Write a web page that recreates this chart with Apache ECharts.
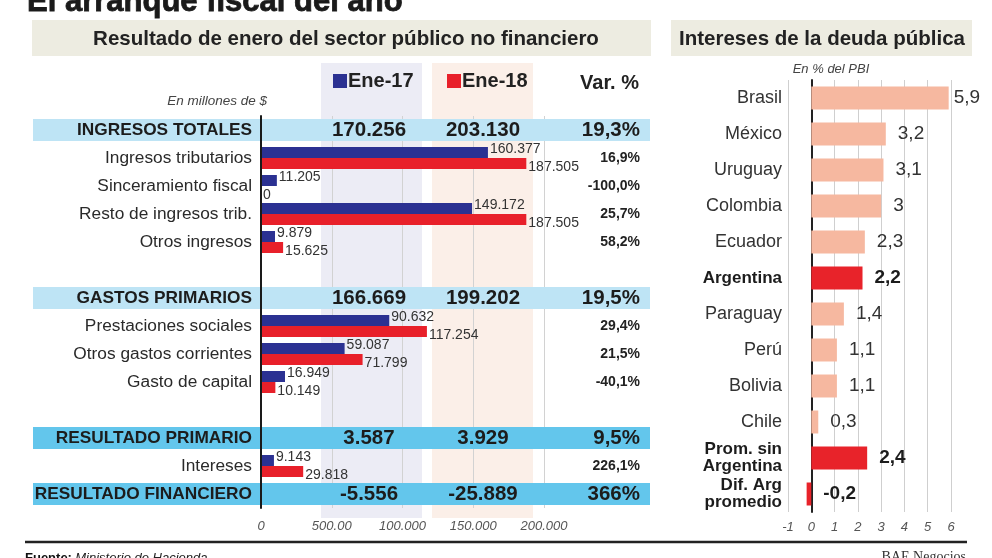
<!DOCTYPE html>
<html><head><meta charset="utf-8">
<script src="https://cdn.jsdelivr.net/npm/echarts@6/dist/echarts.min.js"></script>
<style>html,body{margin:0;padding:0;background:#fff}#c{width:992px;height:558px}</style>
</head><body><div id="c"></div>
<script>
// ---- Left table / bars ----
const categories = ['INGRESOS TOTALES','Ingresos tributarios','Sinceramiento fiscal','Resto de ingresos trib.','Otros ingresos','','GASTOS PRIMARIOS','Prestaciones sociales','Otros gastos corrientes','Gasto de capital',' ','RESULTADO PRIMARIO','Intereses','RESULTADO FINANCIERO'];
const ene17 = [null,160377,11205,149172,9879,null,null,90632,59087,16949,null,null,9143,null];
const ene18 = [null,187505,0,187505,15625,null,null,117254,71799,10149,null,null,29818,null];
const totals17 = ['170.256','','','','','','166.669','','','','','3.587','','-5.556'];
const totals18 = ['203.130','','','','','','199.202','','','','','3.929','','-25.889'];
const varPct = ['19,3%','16,9%','-100,0%','25,7%','58,2%','','19,5%','29,4%','21,5%','-40,1%','','9,5%','226,1%','366%'];
const headerRows = [0,6,11,13];
const strongRows = [11,13];
const xTickLabels = {0:'0',50000:'500.00',100000:'100.000',150000:'150.000',200000:'200.000'};

// ---- Right chart ----
const countries = ['Brasil','México','Uruguay','Colombia','Ecuador','Argentina','Paraguay','Perú','Bolivia','Chile','Prom. sin\nArgentina','Dif. Arg\npromedio'];
const interestPct = [5.9,3.2,3.1,3,2.3,2.2,1.4,1.1,1.1,0.3,2.4,-0.2];
const highlighted = ['Argentina','Prom. sin\nArgentina','Dif. Arg\npromedio'];

const FONT = 'Liberation Sans, Arial, Helvetica, sans-serif';
const fmt = v => String(v).replace(/\B(?=(\d{3})+(?!\d))/g, '.');
const pct = v => String(v).replace('.', ',');

const chart = echarts.init(document.getElementById('c'));

function colAxis(texts, offset, align) {
  return {
    type:'category', gridIndex:0, inverse:true, data:categories, position:'right', offset:offset, z:3,
    axisLine:{show:false}, axisTick:{show:false}, splitLine:{show:false},
    axisLabel:{interval:0, margin:0, align:align, fontFamily:FONT,
      formatter:(v,i)=> texts[i] ? (headerRows.includes(i) ? '{big|'+texts[i]+'}' : '{small|'+texts[i]+'}') : '',
      rich:{ big:{fontSize:20.5, fontWeight:'bold', color:'#1c1c1c', fontFamily:FONT},
             small:{fontSize:14, fontWeight:'bold', color:'#222', fontFamily:FONT} } }
  };
}

const option = {
  animation:false,
  textStyle:{fontFamily:FONT},
  legend:[
    {data:['Ene-17'], left:328, top:66, itemWidth:14, itemHeight:14, icon:'rect', selectedMode:false,
     textStyle:{fontSize:20, fontWeight:'bold', color:'#222', fontFamily:FONT, padding:[0,0,0,-4]}},
    {data:['Ene-18'], left:442, top:66, itemWidth:14, itemHeight:14, icon:'rect', selectedMode:false,
     textStyle:{fontSize:20, fontWeight:'bold', color:'#222', fontFamily:FONT, padding:[0,0,0,-4]}}
  ],
  grid:[
    {left:261, top:116, width:283, height:392},
    {left:788, top:80, width:163, height:432}
  ],
  xAxis:[
    {type:'value', gridIndex:0, min:0, max:200000, interval:50000, z:1,
     axisLine:{show:false}, axisTick:{show:false},
     splitLine:{show:true, lineStyle:{color:'#d2d2d2', width:1}},
     axisLabel:{margin:12, fontSize:13, fontStyle:'italic', color:'#555', fontFamily:FONT,
       formatter:v=> xTickLabels[v] !== undefined ? xTickLabels[v] : ''}},
    {type:'value', gridIndex:1, min:-1, max:6, interval:1,
     axisLine:{show:false}, axisTick:{show:false},
     splitLine:{show:true, lineStyle:{color:'#cfcfcf', width:1}},
     axisLabel:{margin:9, fontSize:13, fontStyle:'italic', color:'#555', fontFamily:FONT}}
  ],
  yAxis:[
    {type:'category', gridIndex:0, inverse:true, data:categories, z:3,
     axisLine:{show:true, lineStyle:{color:'#1a1a1a', width:2}}, axisTick:{show:false},
     axisLabel:{interval:0, margin:9, fontFamily:FONT,
       formatter:(v,i)=> v.trim()==='' ? '' : (headerRows.includes(i) ? '{h|'+v+'}' : '{n|'+v+'}'),
       rich:{h:{fontSize:17.3, fontWeight:'bold', color:'#1c1c1c', fontFamily:FONT},
             n:{fontSize:17.3, color:'#2a2a2a', fontFamily:FONT}}}},
    colAxis(totals17, -175, 'center'),
    colAxis(totals18, -61, 'center'),
    colAxis(varPct, 96, 'right'),
    {type:'category', gridIndex:1, inverse:true, data:countries,
     axisLine:{show:true, onZero:true, lineStyle:{color:'#222', width:2}}, axisTick:{show:false},
     axisLabel:{interval:0, margin:6, fontFamily:FONT,
       formatter:v=> highlighted.includes(v) ? '{b|'+v+'}' : '{n|'+v+'}',
       rich:{b:{fontSize:17, fontWeight:'bold', color:'#1c1c1c', lineHeight:17, fontFamily:FONT},
             n:{fontSize:18, color:'#333', fontFamily:FONT}}}}
  ],
  series:[
    {type:'bar', name:'Ene-17', xAxisIndex:0, yAxisIndex:0, data:ene17, barWidth:11, barGap:'0%',
     itemStyle:{color:'#2b3192'},
     label:{show:true, position:'right', distance:2, offset:[0,-3], fontSize:14, color:'#333', fontFamily:FONT,
       formatter:p=> p.value==null ? '' : fmt(p.value)}},
    {type:'bar', name:'Ene-18', xAxisIndex:0, yAxisIndex:0, data:ene18, barWidth:11, barGap:'0%',
     itemStyle:{color:'#e8202a'},
     label:{show:true, position:'right', distance:2, offset:[0,4], fontSize:14, color:'#333', fontFamily:FONT,
       formatter:p=> p.value==null ? '' : fmt(p.value)}},
    {type:'bar', name:'Intereses', xAxisIndex:1, yAxisIndex:4, barWidth:23,
     data: interestPct.map((v,i)=>{
       const hl = highlighted.includes(countries[i]);
       return {value:v, itemStyle:{color: hl ? '#e8232a' : '#f6b8a0'},
         label:{distance: i===0 ? 5 : 12, fontWeight: hl ? 'bold' : 'normal', color: hl ? '#1c1c1c' : '#333'}};
     }),
     label:{show:true, position:'right', fontSize:19, fontFamily:FONT, formatter:p=> pct(p.value)}}
  ]
};
chart.setOption(option);

// Decorative table elements, placed from the axis scales
const rowY = i => chart.convertToPixel({yAxisIndex:0}, i);
const graphics = [
  {type:'text', z:5, style:{text:'El arranque fiscal del año', x:27, y:2, textVerticalAlign:'middle', font:'bold 31px '+FONT, fill:'#1a1a1a', stroke:'#1a1a1a', lineWidth:0.8}},
  {type:'rect', z:0, shape:{x:32, y:20, width:619, height:36}, style:{fill:'#edece1'}},
  {type:'rect', z:0, shape:{x:671, y:20, width:301, height:36}, style:{fill:'#edece1'}},
  {type:'text', z:5, style:{text:'Resultado de enero del sector público no financiero', x:346, y:39, textAlign:'center', textVerticalAlign:'middle', font:'bold 20.5px '+FONT, fill:'#222'}},
  {type:'text', z:5, style:{text:'Intereses de la deuda pública', x:822, y:39, textAlign:'center', textVerticalAlign:'middle', font:'bold 20.5px '+FONT, fill:'#222'}},
  {type:'rect', z:0, shape:{x:321, y:63, width:101, height:455}, style:{fill:'#ececf5'}},
  {type:'rect', z:0, shape:{x:432, y:63, width:101, height:455}, style:{fill:'#fbefe8'}},
  {type:'text', z:5, style:{text:'Var. %', x:639, y:83, textAlign:'right', textVerticalAlign:'middle', font:'bold 20px '+FONT, fill:'#222'}},
  {type:'text', z:5, style:{text:'En millones de $', x:267, y:101, textAlign:'right', textVerticalAlign:'middle', font:'italic 13.5px '+FONT, fill:'#444'}},
  {type:'text', z:5, style:{text:'En % del PBI', x:831, y:69, textAlign:'center', textVerticalAlign:'middle', font:'italic 13px '+FONT, fill:'#444'}},
  {type:'line', z:5, shape:{x1:25, y1:542, x2:967, y2:542}, style:{stroke:'#222', lineWidth:2.5}},
  {type:'text', z:5, style:{text:'{b|Fuente:} {i|Ministerio de Hacienda}', x:25, y:558, textVerticalAlign:'middle',
     rich:{b:{font:'bold 13px '+FONT, fill:'#111'}, i:{font:'italic 13px '+FONT, fill:'#222'}}}},
  {type:'text', z:5, style:{text:'BAE Negocios', x:966, y:557, textAlign:'right', textVerticalAlign:'middle', font:'14px Liberation Serif, Times New Roman, serif', fill:'#333'}}
];
headerRows.forEach(i=>{
  const y = rowY(i);
  graphics.push({type:'rect', z:2, shape:{x:33, y:y-11, width:617, height:22},
    style:{fill: strongRows.includes(i) ? '#63c6ec' : '#bee4f5'}});
});
chart.setOption({graphic: graphics});
</script>
</body></html>
